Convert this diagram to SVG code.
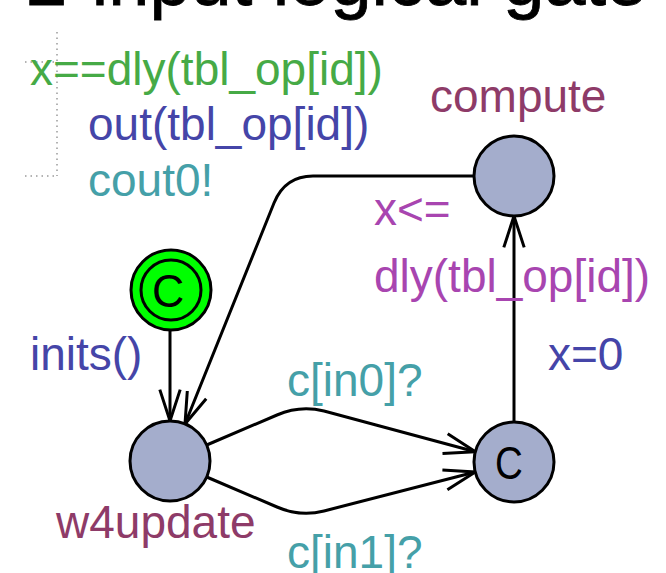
<svg xmlns="http://www.w3.org/2000/svg" width="666" height="573" viewBox="0 0 666 573">
<style>
text{font-family:"Liberation Sans",Arial,sans-serif;font-size:46px}
.loc{fill:#a4adcc;stroke:#000;stroke-width:3}
.edge{fill:none;stroke:#000;stroke-width:3;stroke-linejoin:round}
.head{fill:none;stroke:#000;stroke-width:3;stroke-linejoin:miter}
.dot{fill:none;stroke:#9a9a9a;stroke-width:1.5;stroke-dasharray:1.5 4}
.name{fill:#8e3b68}
.guard{fill:#46aa46}
.upd{fill:#4545a8}
.sync{fill:#45a0a8}
.inv{fill:#a845b0}
</style>
<rect width="666" height="573" fill="#fff"/>
<text x="26" y="5" style="font-size:74px" fill="#000" stroke="#000" stroke-width="0.8">2-input logical gate</text>
<g id="dots">
<path class="dot" d="M57 32V176M25 62H57M25 176H57"/>
</g>
<g id="connectors">
<path class="edge" d="M170 331V421"/>
<path class="head" d="M159.8 389.6L170 421L180.2 389.6"/>
<path class="edge" d="M474 176H313Q285 176 274 203L185 424"/>
<path class="head" d="M206.2 398.7L185 424L187.3 391"/>
<path class="edge" d="M206.7 445L277 415Q300 405 324 411L475.4 451.7"/>
<path class="head" d="M447.7 433.8L475.4 451.7L442.5 453.5"/>
<path class="edge" d="M206.7 477L277 507Q300 517 324 511L475.3 472"/>
<path class="head" d="M442.4 470L475.3 472L447.4 489.7"/>
<path class="edge" d="M514 422V216"/>
<path class="head" d="M503.8 247.4L514 216L524.2 247.4"/>
</g>
<g id="init">
<circle cx="171" cy="290" r="40" fill="#00ff00" stroke="#000" stroke-width="3"/>
<circle cx="171" cy="290" r="30" fill="none" stroke="#000" stroke-width="3"/>
<text transform="translate(168 307) scale(0.95 1)" text-anchor="middle" style="font-size:47px" fill="#000">C</text>
</g>
<g id="w4update">
<circle class="loc" cx="170" cy="461" r="40"/>
<text class="name" x="56" y="538">w4update</text>
</g>
<g id="compute">
<circle class="loc" cx="514" cy="176" r="40"/>
<text class="name" x="430" y="112">compute</text>
</g>
<g id="committed">
<circle class="loc" cx="514" cy="462" r="40"/>
<text transform="translate(509 479) scale(0.82 1)" text-anchor="middle" style="font-size:47px" fill="#000">C</text>
</g>
<g id="labels">
<text class="guard" x="30" y="85">x==dly(tbl_op[id])</text>
<text class="upd" x="88" y="140">out(tbl_op[id])</text>
<text class="sync" x="88" y="196">cout0!</text>
<text class="inv" x="374" y="225">x&lt;=</text>
<text class="inv" x="374" y="292">dly(tbl_op[id])</text>
<text class="upd" x="548" y="370">x=0</text>
<text class="upd" x="30" y="370">inits()</text>
<text class="sync" x="287" y="396">c[in0]?</text>
<text class="sync" x="287" y="568">c[in1]?</text>
</g>
</svg>
